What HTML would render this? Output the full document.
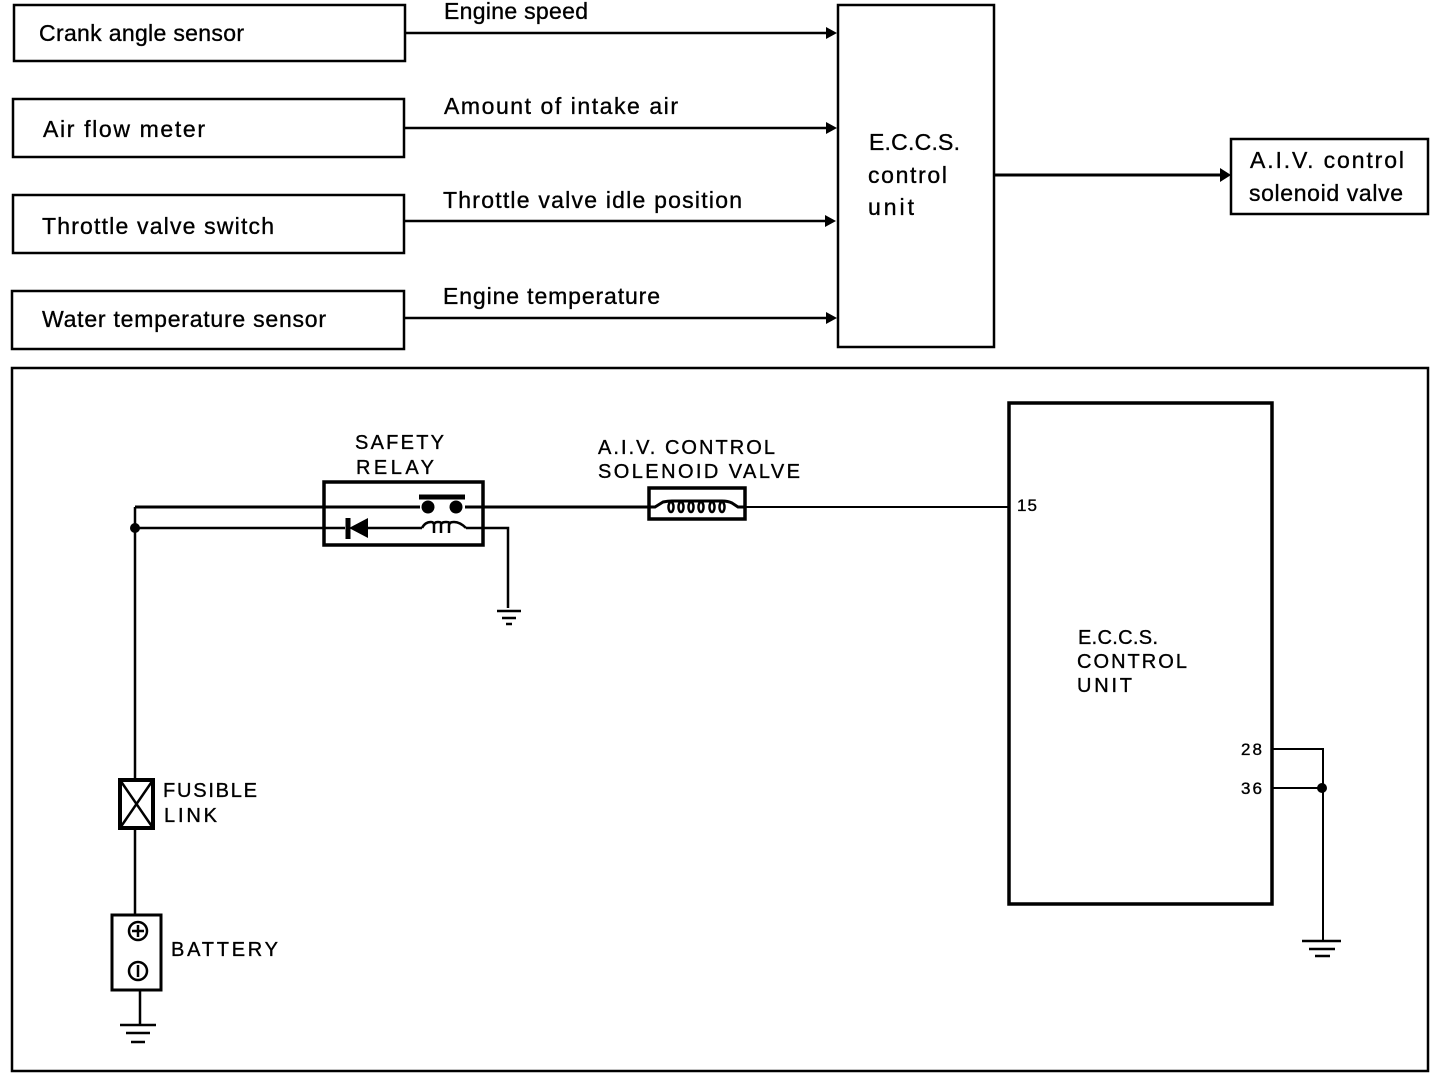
<!DOCTYPE html>
<html><head><meta charset="utf-8"><style>
html,body{margin:0;padding:0;background:#fff;width:1456px;height:1082px;overflow:hidden}
text{font-family:"Liberation Sans",sans-serif;fill:#000;stroke:#000;stroke-width:.35px}
.a{font-size:23px}
.b{font-size:20px}
.n{font-size:17px}
</style></head><body>
<svg width="1456" height="1082" viewBox="0 0 1456 1082" xmlns="http://www.w3.org/2000/svg">
<g fill="none" stroke="#000" stroke-width="2.5">
<rect x="14" y="5" width="391" height="56"/>
<rect x="13" y="99" width="391" height="58"/>
<rect x="13" y="195" width="391" height="58"/>
<rect x="12" y="291" width="392" height="58"/>
<rect x="838" y="5" width="156" height="342"/>
<rect x="1231" y="139" width="197" height="75"/>
<rect x="12" y="368" width="1416" height="703"/>
<rect x="1009" y="403" width="263" height="501" stroke-width="3.5"/>
<rect x="324" y="482" width="159" height="63" stroke-width="3.5"/>
<rect x="649" y="488" width="96" height="31" stroke-width="3.5"/>
<path d="M405 33H826M405 128H826M405 221H826M404 318H826"/>
<path d="M995 175H1220" stroke-width="3"/>
<path d="M135 507H420M465 507H649" stroke-width="3"/>
<path d="M745 507H1010" stroke-width="2"/>
<path d="M135 528H345M368 528H422M466 528H508V608"/>
<path d="M135 507V780M135 828V915M140 990V1024"/>
<path d="M1272 749H1323V940M1272 788H1323" stroke-width="2"/>
<rect x="120" y="780" width="33" height="48" stroke-width="4"/>
<path d="M120 780L153 828M153 780L120 828"/>
<rect x="112" y="915" width="49" height="75" stroke-width="3"/>
<circle cx="138" cy="931" r="9"/><circle cx="138" cy="971" r="9"/>
<path d="M132 931H144M138 925V937M138 965V977"/>
<path d="M497 611H521M502 618H516M506 624H512"/>
<path d="M120 1025H156M126 1033H150M131 1042H145"/>
<path d="M1302 941H1341M1309 949H1335M1315 956H1330"/>
<path d="M419 497H465" stroke-width="5"/>
<path d="M649 507H655L663 502Q668 501 672 501H722Q728 501 732 503L738 507H746" stroke-width="3"/>
<ellipse cx="671" cy="507" rx="2.5" ry="5"/><ellipse cx="681" cy="507" rx="2.5" ry="5"/><ellipse cx="691" cy="507" rx="2.5" ry="5"/><ellipse cx="701" cy="507" rx="2.5" ry="5"/><ellipse cx="712" cy="507" rx="2.5" ry="5"/><ellipse cx="722" cy="507" rx="2.5" ry="5"/>
<path d="M422 528q3-6 9-6q3 0 3 3v8M434 525q0-3 4-3t3 3v8M441 525q0-3 5-3t3 3v8M449 525q0-3 5-3q6 0 12 6" stroke-width="2.5"/>
<path d="M348 518V539" stroke-width="5"/>
</g>
<g fill="#000">
<path d="M837 33l-11-6v12zM837 128l-11-6v12zM836 221l-11-6v12zM837 318l-11-6v12zM1231 175l-11-7v14z"/>
<circle cx="428" cy="507" r="6.5"/><circle cx="456" cy="507" r="6.5"/>
<circle cx="135" cy="528" r="5"/><circle cx="1322" cy="788" r="5"/>
<path d="M349 528l19-10v20z"/>
</g>
<g lengthAdjust="spacing">
<text class="a" x="39" y="41" textLength="205">Crank angle sensor</text>
<text class="a" x="43" y="137" textLength="162">Air flow meter</text>
<text class="a" x="42" y="234" textLength="232">Throttle valve switch</text>
<text class="a" x="42" y="327" textLength="284">Water temperature sensor</text>
<text class="a" x="444" y="19" textLength="144">Engine speed</text>
<text class="a" x="444" y="114" textLength="234">Amount of intake air</text>
<text class="a" x="443" y="208" textLength="299">Throttle valve idle position</text>
<text class="a" x="443" y="304" textLength="217">Engine temperature</text>
<text class="a" x="869" y="150" textLength="91">E.C.C.S.</text>
<text class="a" x="868" y="183" textLength="79">control</text>
<text class="a" x="868" y="215" textLength="46">unit</text>
<text class="a" x="1250" y="168" textLength="154">A.I.V. control</text>
<text class="a" x="1249" y="201" textLength="154">solenoid valve</text>
<text class="b" x="355" y="449" textLength="89">SAFETY</text>
<text class="b" x="356" y="474" textLength="78">RELAY</text>
<text class="b" x="598" y="454" textLength="177">A.I.V. CONTROL</text>
<text class="b" x="598" y="478" textLength="202">SOLENOID VALVE</text>
<text class="b" x="1078" y="644" textLength="80">E.C.C.S.</text>
<text class="b" x="1077" y="668" textLength="110">CONTROL</text>
<text class="b" x="1077" y="692" textLength="55">UNIT</text>
<text class="b" x="163" y="797" textLength="94">FUSIBLE</text>
<text class="b" x="164" y="822" textLength="53">LINK</text>
<text class="b" x="171" y="956" textLength="107">BATTERY</text>
<text class="n" x="1017" y="511" textLength="20">15</text>
<text class="n" x="1241" y="755" textLength="21">28</text>
<text class="n" x="1241" y="794" textLength="21">36</text>
</g>
</svg>
</body></html>
